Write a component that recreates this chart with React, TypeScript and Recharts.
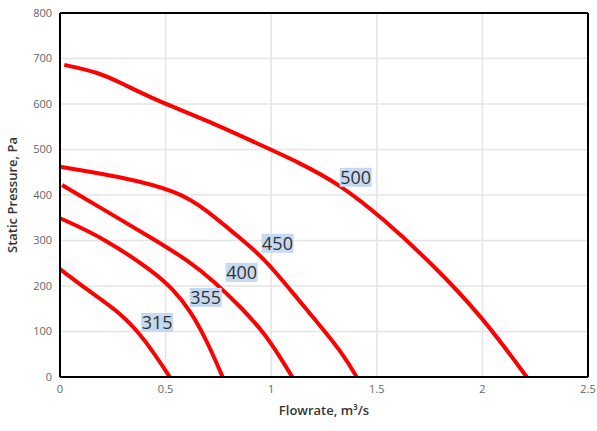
import { LineChart, Line, XAxis, YAxis, CartesianGrid, ReferenceLine, ReferenceDot } from "recharts";

const xTicks = [0, 0.5, 1, 1.5, 2, 2.5];
const yTicks = [0, 100, 200, 300, 400, 500, 600, 700, 800];

const curve500 = [
  { x: 0.02, y: 686 }, { x: 0.18, y: 670 }, { x: 0.29, y: 646 }, { x: 0.45, y: 609 },
  { x: 0.69, y: 565 }, { x: 0.93, y: 514 }, { x: 1.13, y: 472 }, { x: 1.33, y: 422 },
  { x: 1.53, y: 348 }, { x: 1.77, y: 245 }, { x: 2.0, y: 132 }, { x: 2.21, y: 0 },
];
const curve450 = [
  { x: 0, y: 462 }, { x: 0.29, y: 440 }, { x: 0.56, y: 408 }, { x: 0.69, y: 368 },
  { x: 0.84, y: 310 }, { x: 0.96, y: 264 }, { x: 1.09, y: 192 }, { x: 1.22, y: 119 },
  { x: 1.33, y: 57 }, { x: 1.405, y: 0 },
];
const curve400 = [
  { x: 0.01, y: 422 }, { x: 0.21, y: 367 }, { x: 0.45, y: 301 }, { x: 0.61, y: 255 },
  { x: 0.73, y: 210 }, { x: 0.86, y: 152 }, { x: 0.97, y: 95 }, { x: 1.04, y: 45 },
  { x: 1.1, y: 0 },
];
const curve355 = [
  { x: 0, y: 349 }, { x: 0.21, y: 305 }, { x: 0.45, y: 229 }, { x: 0.53, y: 195 },
  { x: 0.62, y: 145 }, { x: 0.7, y: 75 }, { x: 0.77, y: 0 },
];
const curve315 = [
  { x: 0, y: 237 }, { x: 0.13, y: 191 }, { x: 0.29, y: 140 }, { x: 0.4, y: 84 },
  { x: 0.52, y: 0 },
];

const series = [curve500, curve450, curve400, curve355, curve315];
const labelNames = ["500", "450", "400", "355", "315"];
const labelX = [1.4, 1.03, 0.86, 0.69, 0.46];
const labelY = [440, 295, 231, 176, 121];

const font = "'Open Sans', sans-serif";

function SizeLabel(props: any) {
  const { cx, cy, name } = props;
  return (
    <g>
      <rect x={cx - 16} y={cy - 9} width={32} height={19} fill="#c5d9f1" />
      <text x={cx} y={cy + 7} textAnchor="middle" fontSize={18} fontFamily={font} fill="#333">
        {name}
      </text>
    </g>
  );
}

export default function App() {
  return (
    <div style={{ position: "absolute", left: 0, top: 0, background: "#fff" }}>
      <LineChart width={597} height={431} margin={{ top: 13, right: 9, bottom: 9, left: 0 }}>
        <CartesianGrid stroke="#e4e4e4" strokeWidth={1.5} />
        <XAxis
          type="number"
          dataKey="x"
          domain={[0, 2.5]}
          ticks={xTicks}
          tickLine={false}
          axisLine={{ stroke: "#000", strokeWidth: 2 }}
          tick={{ fontSize: 11, fill: "#666", fontFamily: font }}
          height={45}
          label={{ value: "Flowrate, m³/s", position: "insideBottom", offset: 7, fontSize: 13, fill: "#333", fontWeight: 600, fontFamily: font }}
        />
        <YAxis
          type="number"
          dataKey="y"
          domain={[0, 800]}
          ticks={yTicks}
          tickLine={false}
          axisLine={{ stroke: "#000", strokeWidth: 2 }}
          tick={{ fontSize: 11, fill: "#666", fontFamily: font }}
          width={60}
          label={{ value: "Static Pressure, Pa", angle: -90, position: "insideLeft", offset: 12, fontSize: 13, fill: "#333", fontWeight: 600, fontFamily: font, style: { textAnchor: "middle" } }}
        />
        <ReferenceLine y={800} stroke="#000" strokeWidth={2} />
        <ReferenceLine x={2.5} stroke="#000" strokeWidth={2} />
        {series.map((d, i) => (
          <Line
            key={i}
            data={d}
            dataKey="y"
            type="basis"
            stroke="#ff0000"
            strokeWidth={4}
            dot={false}
            isAnimationActive={false}
          />
        ))}
        {labelNames.map((n, i) => (
          <ReferenceDot
            key={n}
            x={labelX[i]}
            y={labelY[i]}
            r={0}
            shape={(p: any) => <SizeLabel {...p} name={n} />}
          />
        ))}
      </LineChart>
    </div>
  );
}
